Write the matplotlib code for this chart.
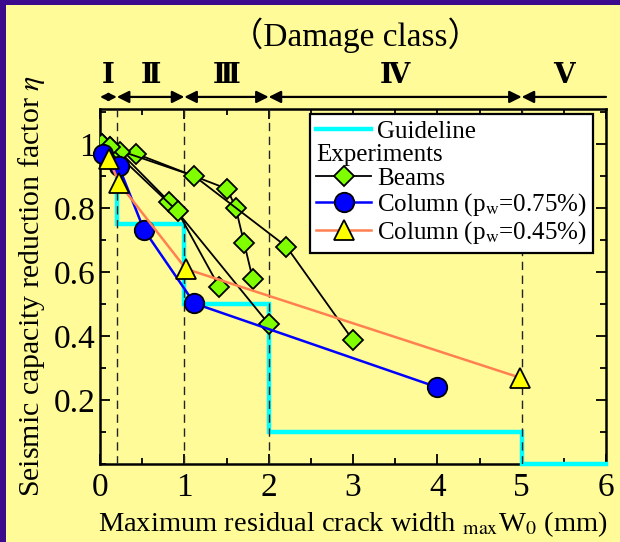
import matplotlib
matplotlib.use("Agg")
import matplotlib.pyplot as plt
from matplotlib.lines import Line2D
from matplotlib.patches import Rectangle
import matplotlib.transforms as mtransforms
from matplotlib.ticker import MultipleLocator, FixedLocator, FixedFormatter

plt.rcParams['font.family'] = ['Liberation Serif', 'DejaVu Serif', 'Noto Sans CJK JP']
plt.rcParams['mathtext.fontset'] = 'stix'

# ---------------- data ----------------
guide_x = [0, 0.2, 1, 2, 5, 6]
guide_y = [0.95, 0.75, 0.5, 0.1, 0.0]

beamA_x = [0.02, 0.43, 1.51, 1.61, 1.71, 1.81]
beamA_y = [1.00, 0.97, 0.86, 0.80, 0.69, 0.58]
beamB_x = [0.12, 1.12, 2.21, 3.00]
beamB_y = [0.99, 0.90, 0.68, 0.387]
beamC_x = [0.02, 0.24, 0.82, 2.00]
beamC_y = [1.00, 0.975, 0.82, 0.438]
beamD_x = [0.12, 0.92, 1.41]
beamD_y = [0.99, 0.79, 0.555]

col75_x = [0.03, 0.22, 0.52, 1.12, 4.0]
col75_y = [0.97, 0.932, 0.733, 0.502, 0.24]
col45_x = [0.11, 0.22, 1.02, 4.98]
col45_y = [0.955, 0.88, 0.61, 0.27]

class_bounds = [0, 0.2, 1, 2, 5, 6]
class_labels = ['Ⅰ', 'Ⅱ', 'Ⅲ', 'Ⅳ', 'Ⅴ']

xticks = [0, 1, 2, 3, 4, 5, 6]
yticks = [0.2, 0.4, 0.6, 0.8, 1.0]
ytick_labels = ['0.2', '0.4', '0.6', '0.8', '1']

# ---------------- figure ----------------
BG = '#FFFB99'
PURPLE = '#3C0A8C'
fig = plt.figure(figsize=(6.2, 5.42), dpi=100, facecolor=BG)
# purple border on the left and top only
fig.add_artist(Rectangle((-0.1, -0.1), 0.1 + 6/620, 1.3,
                         transform=fig.transFigure, facecolor=PURPLE,
                         edgecolor='none', zorder=-10))
fig.add_artist(Rectangle((-0.1, 1 - 5/542), 1.3, 0.2,
                         transform=fig.transFigure, facecolor=PURPLE,
                         edgecolor='none', zorder=-10))

ax = fig.add_axes([100/620, 1 - 464/542, 506/620, 355/542])
ax.set_facecolor(BG)
ax.set_xlim(0, 6)
ax.set_ylim(0, 1.11)

# guideline step
gx = []
gy = []
for i, v in enumerate(guide_y):
    gx += [guide_x[i], guide_x[i + 1]]
    gy += [v, v]
ax.plot(gx, gy, color='#00FFFF', lw=3.2, zorder=3, clip_on=False,
        solid_joinstyle='miter')

# dashed class boundaries
for b in class_bounds[1:-1]:
    ax.axvline(b, color='#222222', lw=1.0, ls=(0, (6, 4)), zorder=3.5)

beam_kw = dict(color='black', lw=1.3, marker='D', markersize=10,
               markerfacecolor='#80FF00', markeredgecolor='black',
               markeredgewidth=1.3, zorder=4)
for bx, by in [(beamA_x, beamA_y), (beamB_x, beamB_y),
               (beamC_x, beamC_y), (beamD_x, beamD_y)]:
    ax.plot(bx, by, **beam_kw)

ax.plot(col75_x, col75_y, color='#0000FF', lw=1.8, marker='o', markersize=14,
        markerfacecolor='#0000FF', markeredgecolor='black', markeredgewidth=1.3,
        zorder=5, clip_on=False)
ax.plot(col45_x, col45_y, color='#FF8050', lw=1.8, marker='^', markersize=15,
        markerfacecolor='#FFFF00', markeredgecolor='black', markeredgewidth=1.3,
        zorder=6, clip_on=False)

# ticks
ax.xaxis.set_major_locator(FixedLocator(xticks))
ax.xaxis.set_minor_locator(MultipleLocator(0.5))
ax.yaxis.set_major_locator(FixedLocator(yticks))
ax.yaxis.set_major_formatter(FixedFormatter(ytick_labels))
ax.yaxis.set_minor_locator(MultipleLocator(0.1))
ax.tick_params(which='both', direction='in', top=True, right=True, width=1.3)
ax.tick_params(which='major', length=7)
ax.tick_params(which='minor', length=4)
ax.tick_params(axis='x', labelsize=24, pad=6)
ax.tick_params(axis='y', labelsize=24, pad=3)
for s in ax.spines.values():
    s.set_linewidth(1.8)

ax.set_xlabel(r'Maximum residual crack width $_{\rm max}$W$_0$ (mm)',
              fontsize=20.5)
ax.set_ylabel(r'Seismic capacity reduction factor $\eta$', fontsize=21.5)
ax.xaxis.set_label_coords(0.50, -0.128)
ax.yaxis.set_label_coords(-0.105, 0.5)

# damage class arrows
trans = mtransforms.blended_transform_factory(ax.transData, ax.transAxes)
ya = 1.034
for i in range(len(class_labels)):
    x0, x1 = class_bounds[i], class_bounds[i + 1]
    style = '<|-' if i == len(class_labels) - 1 else '<|-|>'
    ms = 11 if i == 0 else 18
    ax.annotate('', xy=(x1, ya), xytext=(x0, ya), xycoords=trans,
                textcoords=trans, annotation_clip=False,
                arrowprops=dict(arrowstyle=style, color='black', lw=1.6,
                                mutation_scale=ms, shrinkA=0, shrinkB=0))
    ax.text((x0 + x1) / 2, 1.092, class_labels[i], transform=trans,
            ha='center', va='center', fontsize=20, fontweight='bold',
            clip_on=False)

ax.text(0.505, 1.208, '（Damage class）', transform=ax.transAxes, ha='center',
        va='center', fontsize=24)

# legend
handles = [
    Line2D([], [], color='#00FFFF', lw=3.2),
    Line2D([], [], color='none'),
    Line2D([], [], color='black', lw=1.3, marker='D', markersize=10,
           markerfacecolor='#80FF00', markeredgecolor='black', markeredgewidth=1.3),
    Line2D([], [], color='#0000FF', lw=1.8, marker='o', markersize=14,
           markerfacecolor='#0000FF', markeredgecolor='black', markeredgewidth=1.3),
    Line2D([], [], color='#FF8050', lw=1.8, marker='^', markersize=15,
           markerfacecolor='#FFFF00', markeredgecolor='black', markeredgewidth=1.3),
]
labels = ['Guideline', 'Experiments', 'Beams',
          r'Column (p$_{\rm w}$=0.75%)', r'Column (p$_{\rm w}$=0.45%)']
leg = ax.legend(handles, labels, loc='upper right', bbox_to_anchor=(0.975, 0.985),
                borderaxespad=0, fontsize=18, handlelength=2.2,
                handletextpad=0.25, labelspacing=0.05, borderpad=0.25,
                fancybox=False, framealpha=1, edgecolor='black', numpoints=1)
leg.get_frame().set_linewidth(1.6)
leg.set_zorder(10)
# make "Experiments" a header without handle
try:
    col = leg._legend_handle_box.get_children()[0]
    item = col.get_children()[1]
    item.get_children().pop(0)
except Exception:
    pass

fig.savefig('out.png', dpi=100, facecolor=BG)
